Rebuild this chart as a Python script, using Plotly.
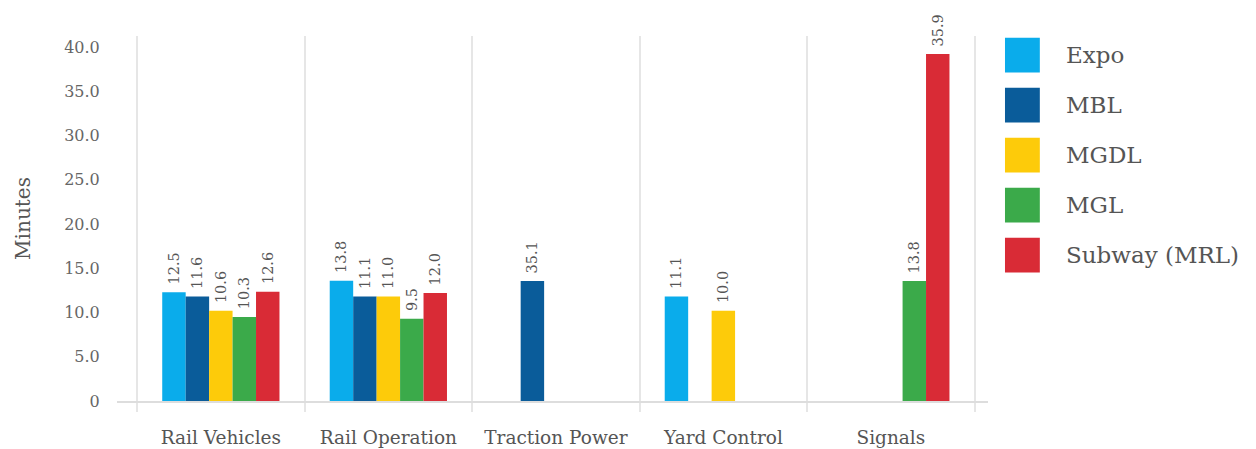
import plotly.graph_objects as go

categories = ["Rail Vehicles", "Rail Operation", "Traction Power", "Yard Control", "Signals"]
series_names = ["Expo", "MBL", "MGDL", "MGL", "Subway (MRL)"]
colors = ["#0AACEB", "#0A5C9A", "#FDCB0A", "#3BAA4A", "#D92B36"]

# bar heights as drawn
expo = [12.3, 13.6, None, 11.8, None]
mbl = [11.8, 11.8, 13.55, None, None]
mgdl = [10.2, 11.8, None, 10.2, None]
mgl = [9.5, 9.3, None, None, 13.55]
mrl = [12.35, 12.2, None, None, 39.2]

# value labels as printed
expo_lbl = ["12.5", "13.8", "", "11.1", ""]
mbl_lbl = ["11.6", "11.1", "35.1", "", ""]
mgdl_lbl = ["10.6", "11.0", "", "10.0", ""]
mgl_lbl = ["10.3", "9.5", "", "", "13.8"]
mrl_lbl = ["12.6", "12.0", "", "", "35.9"]

y_tickvals = [0, 5, 10, 15, 20, 25, 30, 35, 40]
y_ticktext = ["0", "5.0", "10.0", "15.0", "20.0", "25.0", "30.0", "35.0", "40.0"]

values = [expo, mbl, mgdl, mgl, mrl]
labels = [expo_lbl, mbl_lbl, mgdl_lbl, mgl_lbl, mrl_lbl]

FONT = "DejaVu Serif"
TXT = "#555555"

fig = go.Figure()
for name, vals, lbl, col in zip(series_names, values, labels, colors):
    fig.add_trace(go.Bar(
        name=name, x=categories, y=vals, marker=dict(color=col, line=dict(width=0)),
        text=["\u00a0" + t if t else "" for t in lbl],
        textposition="outside", textangle=-90, constraintext="none",
        textfont=dict(family=FONT, size=14.5, color=TXT), cliponaxis=False,
        showlegend=False,
    ))

# custom legend (large swatches)
for i, (name, col) in enumerate(zip(series_names, colors)):
    y_top = 0.995 - i * 0.137
    fig.add_shape(type="rect", xref="paper", yref="paper",
                  x0=1.0195, x1=1.0595, y0=y_top - 0.095, y1=y_top,
                  fillcolor=col, line=dict(width=0))
    fig.add_annotation(xref="paper", yref="paper", x=1.087, y=y_top - 0.0475,
                       text=name, showarrow=False, xanchor="left", yanchor="middle",
                       font=dict(family=FONT, size=23, color=TXT))

fig.update_layout(
    width=1248, height=441,
    margin=dict(l=109, r=268, t=28, b=48),
    barmode="group", bargap=0.3, bargroupgap=0,
    plot_bgcolor="white", paper_bgcolor="white",
    font=dict(family=FONT, color=TXT),
)
fig.update_xaxes(
    range=[-0.62, 4.58], tickson="boundaries", showgrid=True, gridcolor="#e6e6e6", gridwidth=1.5,
    ticks="outside", ticklen=9, tickcolor="#e6e6e6", tickwidth=1.5,
    showline=True, linecolor="#dddddd", linewidth=2, automargin=False,
    tickfont=dict(family=FONT, size=18.5, color=TXT), ticklabelstandoff=19,
)
fig.update_yaxes(
    range=[0, 41.24], showgrid=False, zeroline=False, showline=False, automargin=False,
    tickvals=y_tickvals, ticktext=y_ticktext,
    ticks="outside", ticklen=13, tickcolor="rgba(0,0,0,0)",
    tickfont=dict(family=FONT, size=16, color="#666666"),
    title=dict(text="Minutes", font=dict(family=FONT, size=20, color=TXT), standoff=28),
)

fig.write_html("out.html")
